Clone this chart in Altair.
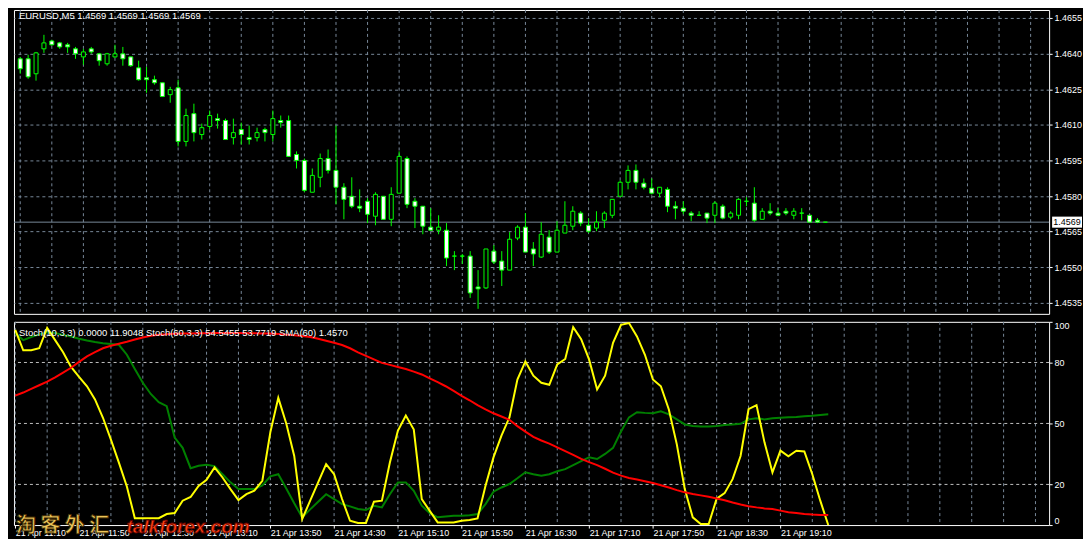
import json
import altair as alt
import pandas as pd

# ---------------- data ----------------
symbol = "EURUSD,M5"
bar_index = list(range(103))

opens = [1.46378, 1.46378, 1.46315, 1.46420, 1.46453, 1.46445, 1.46437, 1.46420, 1.46386, 1.46420,
         1.46399, 1.46357, 1.46386, 1.46399, 1.46386, 1.46340, 1.46298, 1.46290, 1.46277, 1.46227,
         1.46256, 1.46030, 1.46147, 1.46059, 1.46093, 1.46126, 1.46118, 1.46046, 1.46080, 1.46046,
         1.46046, 1.46080, 1.46059, 1.46118, 1.46118, 1.45975, 1.45950, 1.45816, 1.45879, 1.45958,
         1.45908, 1.45837, 1.45799, 1.45757, 1.45778, 1.45715, 1.45799, 1.45702, 1.45812, 1.45958,
         1.45778, 1.45757, 1.45669, 1.45656, 1.45656, 1.45547, 1.45547, 1.45547, 1.45417, 1.45413,
         1.45568, 1.45526, 1.45488, 1.45623, 1.45669, 1.45577, 1.45543, 1.45627, 1.45564, 1.45644,
         1.45673, 1.45728, 1.45677, 1.45665, 1.45698, 1.45719, 1.45799, 1.45858, 1.45908, 1.45854,
         1.45833, 1.45812, 1.45828, 1.45757, 1.45749, 1.45728, 1.45719, 1.45728, 1.45719, 1.45757,
         1.45711, 1.45719, 1.45778, 1.45770, 1.45702, 1.45736, 1.45728, 1.45736, 1.45719, 1.45728,
         1.45719, 1.45698, 1.45690]
highs = [1.46386, 1.46395, 1.46407, 1.46479, 1.46458, 1.46449, 1.46445, 1.46428, 1.46420, 1.46428,
         1.46403, 1.46403, 1.46437, 1.46428, 1.46386, 1.46370, 1.46344, 1.46307, 1.46277, 1.46260,
         1.46290, 1.46168, 1.46189, 1.46105, 1.46160, 1.46147, 1.46126, 1.46126, 1.46109, 1.46097,
         1.46088, 1.46088, 1.46160, 1.46139, 1.46139, 1.45988, 1.45958, 1.45916, 1.45979, 1.45996,
         1.46097, 1.45854, 1.45879, 1.45828, 1.45791, 1.45816, 1.45799, 1.45837, 1.45988, 1.45967,
         1.45791, 1.45757, 1.45749, 1.45719, 1.45686, 1.45568, 1.45556, 1.45568, 1.45488, 1.45577,
         1.45593, 1.45568, 1.45648, 1.45677, 1.45728, 1.45606, 1.45690, 1.45656, 1.45694, 1.45778,
         1.45757, 1.45736, 1.45707, 1.45736, 1.45736, 1.45786, 1.45866, 1.45929, 1.45933, 1.45874,
         1.45874, 1.45837, 1.45837, 1.45778, 1.45778, 1.45736, 1.45736, 1.45728, 1.45778, 1.45765,
         1.45736, 1.45791, 1.45795, 1.45837, 1.45749, 1.45770, 1.45749, 1.45749, 1.45749, 1.45749,
         1.45719, 1.45707, 1.45690]
lows = [1.46315, 1.46294, 1.46286, 1.46403, 1.46433, 1.46420, 1.46403, 1.46378, 1.46353, 1.46399,
        1.46349, 1.46349, 1.46382, 1.46349, 1.46344, 1.46286, 1.46235, 1.46269, 1.46219, 1.46193,
        1.46009, 1.46009, 1.46030, 1.46038, 1.46080, 1.46084, 1.46038, 1.46017, 1.46017, 1.46017,
        1.46030, 1.46030, 1.46030, 1.46088, 1.45967, 1.45916, 1.45816, 1.45816, 1.45837, 1.45895,
        1.45765, 1.45702, 1.45749, 1.45732, 1.45686, 1.45677, 1.45702, 1.45673, 1.45812, 1.45749,
        1.45665, 1.45639, 1.45656, 1.45639, 1.45505, 1.45488, 1.45514, 1.45371, 1.45325, 1.45409,
        1.45514, 1.45421, 1.45488, 1.45614, 1.45564, 1.45505, 1.45539, 1.45556, 1.45564, 1.45644,
        1.45656, 1.45673, 1.45644, 1.45652, 1.45665, 1.45707, 1.45799, 1.45828, 1.45828, 1.45828,
        1.45807, 1.45795, 1.45732, 1.45702, 1.45723, 1.45694, 1.45719, 1.45686, 1.45686, 1.45702,
        1.45702, 1.45702, 1.45757, 1.45690, 1.45702, 1.45719, 1.45715, 1.45719, 1.45702, 1.45698,
        1.45690, 1.45686, 1.45690]
closes = [1.46336, 1.46302, 1.46403, 1.46445, 1.46437, 1.46428, 1.46428, 1.46399, 1.46407, 1.46407,
          1.46370, 1.46399, 1.46399, 1.46378, 1.46349, 1.46290, 1.46290, 1.46277, 1.46219, 1.46248,
          1.46030, 1.46139, 1.46067, 1.46088, 1.46139, 1.46118, 1.46038, 1.46067, 1.46059, 1.46038,
          1.46067, 1.46067, 1.46126, 1.46109, 1.45967, 1.45950, 1.45824, 1.45887, 1.45958, 1.45908,
          1.45837, 1.45786, 1.45757, 1.45749, 1.45723, 1.45807, 1.45702, 1.45807, 1.45967, 1.45765,
          1.45757, 1.45673, 1.45656, 1.45669, 1.45539, 1.45547, 1.45547, 1.45392, 1.45409, 1.45577,
          1.45522, 1.45488, 1.45618, 1.45669, 1.45564, 1.45556, 1.45639, 1.45564, 1.45656, 1.45677,
          1.45736, 1.45686, 1.45652, 1.45690, 1.45728, 1.45786, 1.45858, 1.45908, 1.45858, 1.45837,
          1.45812, 1.45837, 1.45757, 1.45749, 1.45736, 1.45719, 1.45719, 1.45707, 1.45770, 1.45707,
          1.45728, 1.45786, 1.45778, 1.45698, 1.45736, 1.45728, 1.45719, 1.45728, 1.45736, 1.45728,
          1.45690, 1.45690, 1.45690]

# Stoch(10,3,3) main line (yellow)
stoch_fast = [96, 86, 86, 87, 97, 91, 85, 77.8, 72.9, 68.3,
              61.8, 52.8, 42, 30.7, 19, 3.4, 3.4, 3.4, 3.4, 5.4,
              5.9, 12, 13.8, 19.3, 22.3, 28.4, 23.4, 17.7, 12.3, 15.2,
              16.9, 21.8, 45.6, 62.6, 50, 34, 3, 12, 21, 30,
              25, 12.8, 2.1, 1, 1, 11.5, 12, 30.8, 46.4, 53.9,
              47, 12.8, 7, 1.3, 1.3, 1.3, 2.1, 2.5, 3.3, 19.3,
              33.3, 44, 53, 71.6, 80.5, 73.5, 70, 69, 79, 81.7,
              97.4, 91.5, 81.4, 66.7, 73.5, 89.7, 98.5, 99.4, 92.8, 83.8,
              71.6, 68.3, 56.9, 39.7, 17.7, 3.8, 0.5, 0.5, 13, 15.7,
              22.6, 34, 57, 59, 40.7, 25.9, 36.6, 33.8, 36.6, 36.2,
              25, 12, 0]
# Stoch(60,3,3) main line (green)
stoch_slow = [94.4, 91, 92.5, 93.8, 94.8, 94.5, 93.5, 92.8, 91.7, 90.8,
              90.1, 89.5, 89.1, 88.7, 83.8, 76.8, 70, 64.5, 60.5, 58.5,
              43, 38, 28, 29.2, 29.7, 29, 25, 21, 17.7, 17.7,
              17.7, 19.5, 24, 25, 18, 10.7, 3.8, 7.7, 11.5, 15.2,
              12.8, 10.3, 9.2, 7.9, 7.4, 9.5, 8.7, 15.2, 21, 21,
              16.9, 9.5, 5.9, 3.8, 4.2, 4.6, 4.6, 4.8, 5.4, 10.3,
              16.4, 18.5, 20.2, 23, 26, 25, 24.3, 25, 26.5, 27.5,
              29.5, 31.5, 33.3, 32.5, 35, 38, 46, 53, 55.5, 55.2,
              55, 56, 54.5, 52, 49.5, 48.7, 48.5, 48.5, 48.7, 49.2,
              49.5, 49.8, 52, 52.5, 52, 52.5, 52.8, 53, 53.2, 53.5,
              53.8, 54.2, 54.5]
# SMA(60) as drawn in the indicator window (red)
sma_line = [63.7, 65.2, 67, 68.8, 70.6, 72.7, 75, 77.4, 80.3, 83,
            85.1, 87, 88.2, 89.2, 90.2, 91.3, 92.3, 93.1, 93.6, 93.9,
            94.1, 94.2, 94.3, 94.4, 94.4, 94.5, 94.5, 94.5, 94.5, 94.4,
            94.4, 94.3, 94.2, 94, 93.7, 93.4, 93, 92.5, 91.7, 90.7,
            89.7, 88.6, 87, 85, 83.2, 81.5, 79.8, 78.8, 77.8, 76.8,
            75.5, 74.1, 72.2, 70.3, 68.3, 66, 63.6, 61.4, 59, 56.9,
            55, 53.4, 51.8, 48.7, 46, 43.4, 41.6, 40.1, 38.2, 36.4,
            34.5, 32.6, 31, 29.5, 27.7, 25.8, 24.3, 23.2, 22.4, 21.6,
            20.7, 19.6, 18.5, 17.2, 16.1, 15.3, 14.6, 13.9, 13.1, 12.2,
            11.1, 10.1, 9.3, 8.7, 8.2, 7.9, 7.1, 6.3, 5.9, 5.5,
            5.2, 5.0, 4.9]

tick_pos = [0, 8, 16, 24, 32, 40, 48, 56, 64, 72, 80, 88, 96]
tick_labels = ["21 Apr 11:10", "21 Apr 11:50", "21 Apr 12:30", "21 Apr 13:10",
               "21 Apr 13:50", "21 Apr 14:30", "21 Apr 15:10", "21 Apr 15:50",
               "21 Apr 16:30", "21 Apr 17:10", "21 Apr 17:50", "21 Apr 18:30",
               "21 Apr 19:10"]
price_ticks = [1.4535, 1.4550, 1.4565, 1.4580, 1.4595, 1.4610, 1.4625, 1.4640, 1.4655]
stoch_ticks = [0, 20, 50, 80, 100]
stoch_levels = [20, 50, 80]
grid_idx = list(range(0, 130, 4))

header_low = "Stoch(10,3,3) 0.0000 11.9048  Stoch(60,3,3) 54.5455 53.7719  SMA(60) 1.4570"
watermark_cn = "淘 客 外 汇"
watermark_en = "talkforex.com"

# ---------------- tables ----------------
df = pd.DataFrame({"i": bar_index, "open": opens, "high": highs, "low": lows, "close": closes})
ind = pd.DataFrame({"i": bar_index, "fast": stoch_fast, "slow": stoch_slow, "sma": sma_line})
grid_df = pd.DataFrame({"g": grid_idx})
lvl_df = pd.DataFrame({"lv": stoch_levels})
last_df = df.tail(1)

title_str = f"{symbol}  {opens[-1]:.4f} {highs[-1]:.4f} {lows[-1]:.4f} {closes[-1]:.4f}"

# ---------------- style ----------------
FONT = "Liberation Sans"
LIME = "#00ff00"
GRID = "#778899"
W, H_TOP, H_LOW = 1039, 305, 204

xs = alt.Scale(domain=[-0.1625, 129.7125], nice=False, zero=False)
ys_top = alt.Scale(domain=[1.453038, 1.465836], nice=False, zero=False)
ys_low = alt.Scale(domain=[0, 100], nice=False, zero=False)

common = dict(title=None, domain=False, tickColor="white", tickSize=3, tickWidth=1,
              labelColor="white", labelFont=FONT, labelFontSize=9, labelOverlap=False)

price_axis = alt.Axis(orient="right", values=price_ticks, format=".4f", grid=True,
                      gridColor=GRID, gridDash=[3, 3], gridWidth=1, labelPadding=2,
                      minExtent=33, maxExtent=33, **common)
stoch_axis = alt.Axis(orient="right", values=stoch_ticks, grid=False, labelFlush=True,
                      labelPadding=2, minExtent=33, maxExtent=33, **common)
label_expr = f"{json.dumps(tick_labels)}[indexof({json.dumps(tick_pos)}, datum.value)]"
time_axis = alt.Axis(orient="bottom", values=tick_pos, labelExpr=label_expr, labelAlign="left",
                     labelFlush=False, labelPadding=0, grid=False, minExtent=12, maxExtent=12,
                     **common)

# ---------------- price panel ----------------
x_top = alt.X("i:Q", scale=xs, axis=None)

vgrid_top = alt.Chart(grid_df).mark_rule(color=GRID, strokeDash=[3, 3], strokeWidth=1).encode(
    x=alt.X("g:Q", scale=xs, axis=None))
bid_line = alt.Chart(last_df).mark_rule(color=GRID, strokeWidth=1).encode(
    y=alt.Y("close:Q", scale=ys_top, axis=price_axis))
wicks = alt.Chart(df).mark_rule(color=LIME, strokeWidth=1).encode(
    x=x_top, y=alt.Y("low:Q", scale=ys_top, axis=price_axis), y2="high:Q")
bodies = alt.Chart(df).mark_bar(size=4, stroke=LIME, strokeWidth=1).encode(
    x=x_top,
    y=alt.Y("open:Q", scale=ys_top, axis=price_axis),
    y2="close:Q",
    fill=alt.when(alt.datum.close < alt.datum.open).then(alt.value("white")).otherwise(alt.value("black")),
)
title_txt = alt.Chart(last_df).mark_text(align="left", baseline="middle", color="white",
                                         font=FONT, fontSize=9.5).encode(
    x=alt.value(5), y=alt.value(6), text=alt.value(title_str))
price_box = alt.Chart(last_df).mark_point(shape="M-1,-0.37H1V0.37H-1Z", filled=True, color="white",
                                          size=900, opacity=1).encode(
    x=alt.value(W + 18), y=alt.Y("close:Q", scale=ys_top, axis=price_axis))
price_box_txt = alt.Chart(last_df).mark_text(color="black", font=FONT, fontSize=9, align="center",
                                             baseline="middle").encode(
    x=alt.value(W + 18), y=alt.Y("close:Q", scale=ys_top, axis=price_axis),
    text=alt.Text("close:Q", format=".4f"))

top = alt.layer(vgrid_top, bid_line, wicks, bodies, title_txt, price_box, price_box_txt).properties(
    width=W, height=H_TOP)

# ---------------- indicator panel ----------------
x_low = alt.X("i:Q", scale=xs, axis=time_axis)

vgrid_low = alt.Chart(grid_df).mark_rule(color=GRID, strokeDash=[3, 3], strokeWidth=1).encode(
    x=alt.X("g:Q", scale=xs, axis=time_axis))
levels = alt.Chart(lvl_df).mark_rule(color="#c0c0c0", strokeDash=[3, 3], strokeWidth=1).encode(
    y=alt.Y("lv:Q", scale=ys_low, axis=stoch_axis))
line_slow = alt.Chart(ind).mark_line(color="#008000", strokeWidth=2).encode(
    x=x_low, y=alt.Y("slow:Q", scale=ys_low, axis=stoch_axis))
line_fast = alt.Chart(ind).mark_line(color="#ffff00", strokeWidth=2).encode(
    x=x_low, y=alt.Y("fast:Q", scale=ys_low, axis=stoch_axis))
line_sma = alt.Chart(ind).mark_line(color="#ff0000", strokeWidth=2).encode(
    x=x_low, y=alt.Y("sma:Q", scale=ys_low, axis=stoch_axis))
header_txt = alt.Chart(last_df).mark_text(align="left", baseline="middle", color="white",
                                          font=FONT, fontSize=9.5).encode(
    x=alt.value(5), y=alt.value(11), text=alt.value(header_low))
wm_cn = alt.Chart(last_df).mark_text(align="left", baseline="middle", font="Noto Sans CJK SC",
                                     fontSize=20, fontWeight="bold", color="#ecc458",
                                     stroke="#3a2600", strokeWidth=0.8).encode(
    x=alt.value(2), y=alt.value(205), text=alt.value(watermark_cn))
wm_en = alt.Chart(last_df).mark_text(align="left", baseline="middle", font=FONT, fontSize=19,
                                     fontWeight="bold", fontStyle="italic", color="#ff4010",
                                     stroke="#5a0000", strokeWidth=0.8).encode(
    x=alt.value(113), y=alt.value(206), text=alt.value(watermark_en))

low = alt.layer(vgrid_low, levels, line_slow, line_fast, line_sma, header_txt, wm_cn, wm_en).properties(
    width=W, height=H_LOW)

chart = alt.vconcat(top, low, spacing=3).properties(
    background="black",
    padding={"left": 2, "top": 0, "right": 0, "bottom": 0},
).configure_view(stroke="white", strokeWidth=1)

chart.save("out.html", embed_options={"renderer": "svg", "actions": False})
